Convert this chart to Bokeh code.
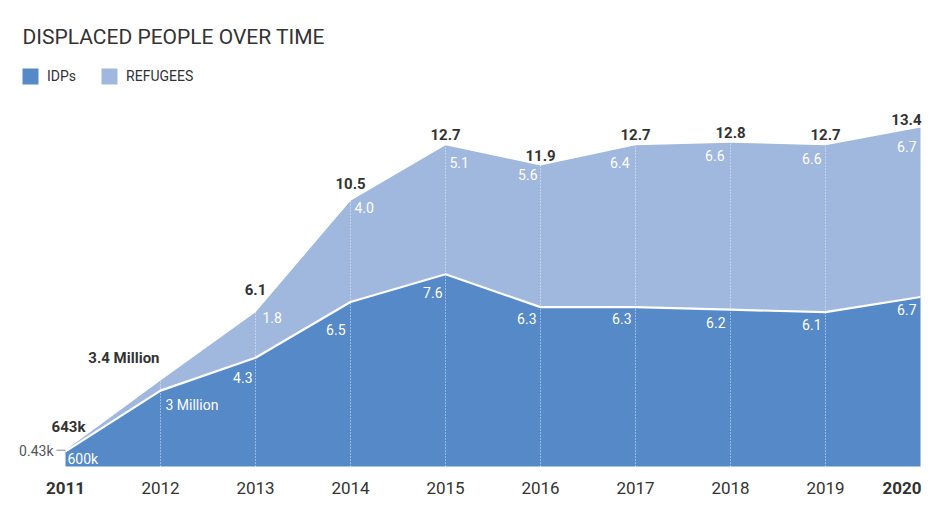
from bokeh.plotting import figure
from bokeh.models import ColumnDataSource, Label, Legend, LegendItem, Range1d
from bokeh.core.properties import value
from bokeh.embed import file_html
from bokeh.resources import INLINE

# ---------------- data ----------------
years = [2011, 2012, 2013, 2014, 2015, 2016, 2017, 2018, 2019, 2020]
idps = [0.6, 3.0, 4.3, 6.5, 7.6, 6.3, 6.3, 6.2, 6.1, 6.7]
refugees = [0.043, 0.4, 1.8, 4.0, 5.1, 5.6, 6.4, 6.6, 6.6, 6.7]
total_labels = ["643k", "3.4 Million", "6.1", "10.5", "12.7", "11.9", "12.7", "12.8", "12.7", "13.4"]
idp_labels = ["600k", "3 Million", "4.3", "6.5", "7.6", "6.3", "6.3", "6.2", "6.1", "6.7"]
refugee_labels = ["0.43k", "", "1.8", "4.0", "5.1", "5.6", "6.4", "6.6", "6.6", "6.7"]
year_labels = [str(y) for y in years]
series_names = ["IDPs", "REFUGEES"]
title_text = "DISPLACED PEOPLE OVER TIME"

totals = [round(a + b, 3) for a, b in zip(idps, refugees)]

# ---------------- style ----------------
FONT_STR = "Roboto"
FONT = value(FONT_STR)
C_IDP = "#5589c8"
C_REF = "#a0b7de"
C_TXT = "#333333"

W, H = 943, 527
px_per_year = 95.0
px_per_unit = 25.3
left_px = 65.0      # x position of first year inside figure
base_px = 61.0      # baseline distance from bottom of figure

x0 = years[0] - left_px / px_per_year
x1 = x0 + W / px_per_year
y0 = -base_px / px_per_unit
y1 = y0 + H / px_per_unit

p = figure(width=W, height=H, output_backend="svg", toolbar_location=None,
           x_range=Range1d(x0, x1), y_range=Range1d(y0, y1),
           min_border=0, outline_line_color=None)
p.axis.visible = False
p.grid.visible = False
p.background_fill_color = "white"
p.border_fill_color = "white"

src = ColumnDataSource(dict(x=years, idp=idps, tot=totals))

r_idp = p.varea(x="x", y1=0, y2="idp", source=src, fill_color=C_IDP)
r_ref = p.varea(x="x", y1="idp", y2="tot", source=src, fill_color=C_REF)

# dotted vertical guides
p.segment(x0=years[1:-1], y0=[0] * (len(years) - 2), x1=years[1:-1], y1=totals[1:-1],
          line_color="white", line_width=1, line_dash="1 2", line_alpha=0.8)

# boundary between IDPs and refugees
p.line(x="x", y="idp", source=src, line_color="white", line_width=2.2)

# ---- total labels (bold, above) ----
tot_align = ["center", "right", "center", "center", "center", "center", "center", "center", "center", "right"]
tot_dx = [3, -1, 0, 0, 0, 0, 0, 0, 0, 1]
tot_dy = [-23, -22, -23, -17, -11, -10, -11, -10, -11, -8]
p.text(x=years, y=totals, text=total_labels, x_offset=tot_dx, y_offset=tot_dy,
       text_align=tot_align, text_baseline="alphabetic", text_font=FONT,
       text_font_size="15px", text_font_style="bold", text_color=C_TXT)

# ---- refugee labels (white, inside upper band) ----
ri = list(range(2, len(years)))
ref_align = ["left", "left", "left", "right", "right", "right", "right", "right"]
ref_dx = [7, 4, 4, -3, -6, -6, -4, -4]
ref_dy = [0, 1, 12, 4, 12, 7, 8, 14]
p.text(x=[years[i] for i in ri], y=[totals[i] for i in ri], text=[refugee_labels[i] for i in ri],
       x_offset=ref_dx, y_offset=ref_dy, text_align=ref_align, text_baseline="top",
       text_font=FONT, text_font_size="14px", text_color="white")

# 2011 refugee annotation outside the chart
p.text(x=[years[0]], y=[totals[0]], text=[refugee_labels[0]], x_offset=[-12], y_offset=[1],
       text_align="right", text_baseline="middle", text_font=FONT,
       text_font_size="14px", text_color="#555555")
p.segment(x0=[years[0] - 9 / px_per_year], y0=[totals[0]], x1=[years[0]], y1=[totals[0]],
          line_color="#888888", line_width=1)

# ---- IDP labels (white, inside lower band) ----
idp_align = ["left", "left", "right", "right", "right", "right", "right", "right", "right", "right"]
idp_dx = [2, 5, -3, -5, -3, -4, -4, -5, -4, -4]
idp_dy = [0, 6, 14, 22, 13, 6, 6, 7, 7, 7]
p.text(x=years, y=idps, text=idp_labels, x_offset=idp_dx, y_offset=idp_dy,
       text_align=idp_align, text_baseline="top", text_font=FONT,
       text_font_size="14px", text_color="white")

# ---- x axis labels ----
yr_style = ["bold"] + ["normal"] * (len(years) - 2) + ["bold"]
yr_align = ["center"] * (len(years) - 1) + ["right"]
p.text(x=years, y=[0] * len(years), text=year_labels, x_offset=[0] * (len(years) - 1) + [1],
       y_offset=21, text_align=yr_align, text_baseline="middle", text_font=FONT,
       text_font_size="17px", text_font_style=yr_style, text_color=C_TXT)

# ---- title ----
p.add_layout(Label(x=22, y=H - 36, x_units="screen", y_units="screen", text=title_text,
                   text_font=FONT_STR, text_font_size="21px", text_color=C_TXT,
                   text_baseline="middle"))

# ---- legend ----
legend = Legend(items=[LegendItem(label=series_names[0], renderers=[r_idp]),
                       LegendItem(label=series_names[1], renderers=[r_ref])],
                orientation="horizontal", location=(20, H - 86),
                padding=0, margin=0, spacing=23, label_standoff=7,
                glyph_width=20, glyph_height=20, label_height=20,
                label_text_font=FONT_STR, label_text_font_size="14px", label_text_color=C_TXT,
                border_line_color=None, background_fill_alpha=0)
p.add_layout(legend)

open("out.html", "w").write(file_html(p, INLINE))
